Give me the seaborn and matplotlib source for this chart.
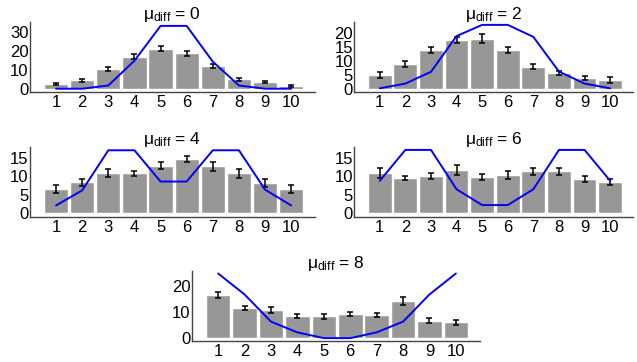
import matplotlib
matplotlib.use("Agg")
import matplotlib.pyplot as plt
import numpy as np
import pandas as pd
import seaborn as sns

# values
positions = list(range(1, 11))
mu_diffs = [0, 2, 4, 6, 8]

bar_means = {
    0: [2.8, 4.8, 10.5, 17.2, 21.4, 18.8, 12.1, 5.3, 3.8, 1.7],
    2: [5.1, 9.0, 14.0, 17.6, 18.0, 14.0, 8.0, 5.8, 4.0, 3.3],
    4: [6.5, 8.4, 10.8, 10.8, 12.9, 14.8, 12.7, 10.8, 8.1, 6.5],
    6: [10.9, 9.6, 10.1, 11.7, 9.8, 10.4, 11.4, 11.4, 9.3, 8.5],
    8: [16.6, 11.6, 10.8, 8.5, 8.5, 9.3, 8.9, 14.3, 6.8, 6.2],
}
bar_errs = {
    0: [0.7, 0.8, 1.0, 1.2, 1.3, 1.3, 1.1, 0.8, 0.7, 0.6],
    2: [1.0, 1.0, 1.2, 1.2, 1.6, 1.0, 0.9, 0.8, 0.7, 1.0],
    4: [1.1, 1.0, 1.1, 0.8, 1.0, 0.8, 1.1, 1.3, 1.1, 1.1],
    6: [1.3, 0.6, 0.7, 1.4, 0.8, 1.1, 0.9, 0.9, 0.7, 0.8],
    8: [1.3, 0.9, 1.1, 0.7, 0.9, 0.9, 0.8, 1.6, 0.9, 0.9],
}
model_line = {
    0: [0.3, 0.3, 2.0, 15.0, 33.3, 33.3, 14.5, 2.0, 0.3, 0.3],
    2: [0.3, 2.0, 6.2, 19.0, 23.0, 23.0, 18.7, 6.3, 2.0, 0.3],
    4: [2.1, 6.2, 17.1, 17.1, 8.6, 8.6, 17.1, 17.1, 6.4, 2.1],
    6: [8.8, 17.2, 17.2, 6.5, 2.2, 2.2, 6.5, 17.2, 17.2, 8.8],
    8: [24.8, 16.8, 6.4, 2.3, 0.1, 0.1, 2.3, 6.4, 16.8, 24.8],
}
y_ticks = {
    0: [0, 10, 20, 30],
    2: [0, 5, 10, 15, 20],
    4: [0, 5, 10, 15],
    6: [0, 5, 10, 15],
    8: [0, 10, 20],
}
y_limits = {0: (-1.4, 35.3), 2: (-1.0, 24.0), 4: (-1.0, 18.0),
            6: (-1.0, 18.0), 8: (-1.0, 25.7)}

sns.set_style("white")
plt.rcParams["font.family"] = ["Liberation Sans", "DejaVu Sans"]
plt.rcParams["mathtext.fontset"] = "custom"
plt.rcParams["mathtext.rm"] = "Liberation Sans"
plt.rcParams["mathtext.it"] = "Liberation Sans:italic"

fig = plt.figure(figsize=(6.37, 3.62), dpi=100)
axes_rects = {
    0: [0.047, 0.746, 0.447, 0.193],
    2: [0.556, 0.746, 0.438, 0.193],
    4: [0.047, 0.401, 0.447, 0.193],
    6: [0.556, 0.401, 0.438, 0.193],
    8: [0.301, 0.058, 0.452, 0.193],
}

for mu in mu_diffs:
    ax = fig.add_axes(axes_rects[mu])
    df = pd.DataFrame({"pos": positions, "mean": bar_means[mu],
                       "err": bar_errs[mu], "model": model_line[mu]})
    sns.barplot(data=df, x="pos", y="mean", native_scale=True, color="#979797",
                saturation=1, width=0.93, errorbar=None, ax=ax)
    ax.errorbar(df["pos"], df["mean"], yerr=df["err"], fmt="none",
                ecolor="black", elinewidth=1.1, capsize=2.5, capthick=1.1)
    sns.lineplot(data=df, x="pos", y="model", color="#0000ff", linewidth=1.4, ax=ax)

    ax.set_xlim(0, 10.9)
    ax.set_ylim(*y_limits[mu])
    ax.set_xticks(positions)
    ax.set_yticks(y_ticks[mu])
    ax.tick_params(length=0, labelsize=12, colors="black")
    ax.tick_params(axis="x", pad=2)
    ax.tick_params(axis="y", pad=1)
    ax.set_xlabel("")
    ax.set_ylabel("")
    ax.set_title(r"μ$_{\mathrm{diff}}$ = " + str(mu), fontsize=12.5, pad=2,
                 color="black")
    for side in ["top", "right"]:
        ax.spines[side].set_visible(False)
    for side in ["left", "bottom"]:
        ax.spines[side].set_color("#444444")
        ax.spines[side].set_linewidth(1.0)

fig.savefig("out.png", dpi=100)
